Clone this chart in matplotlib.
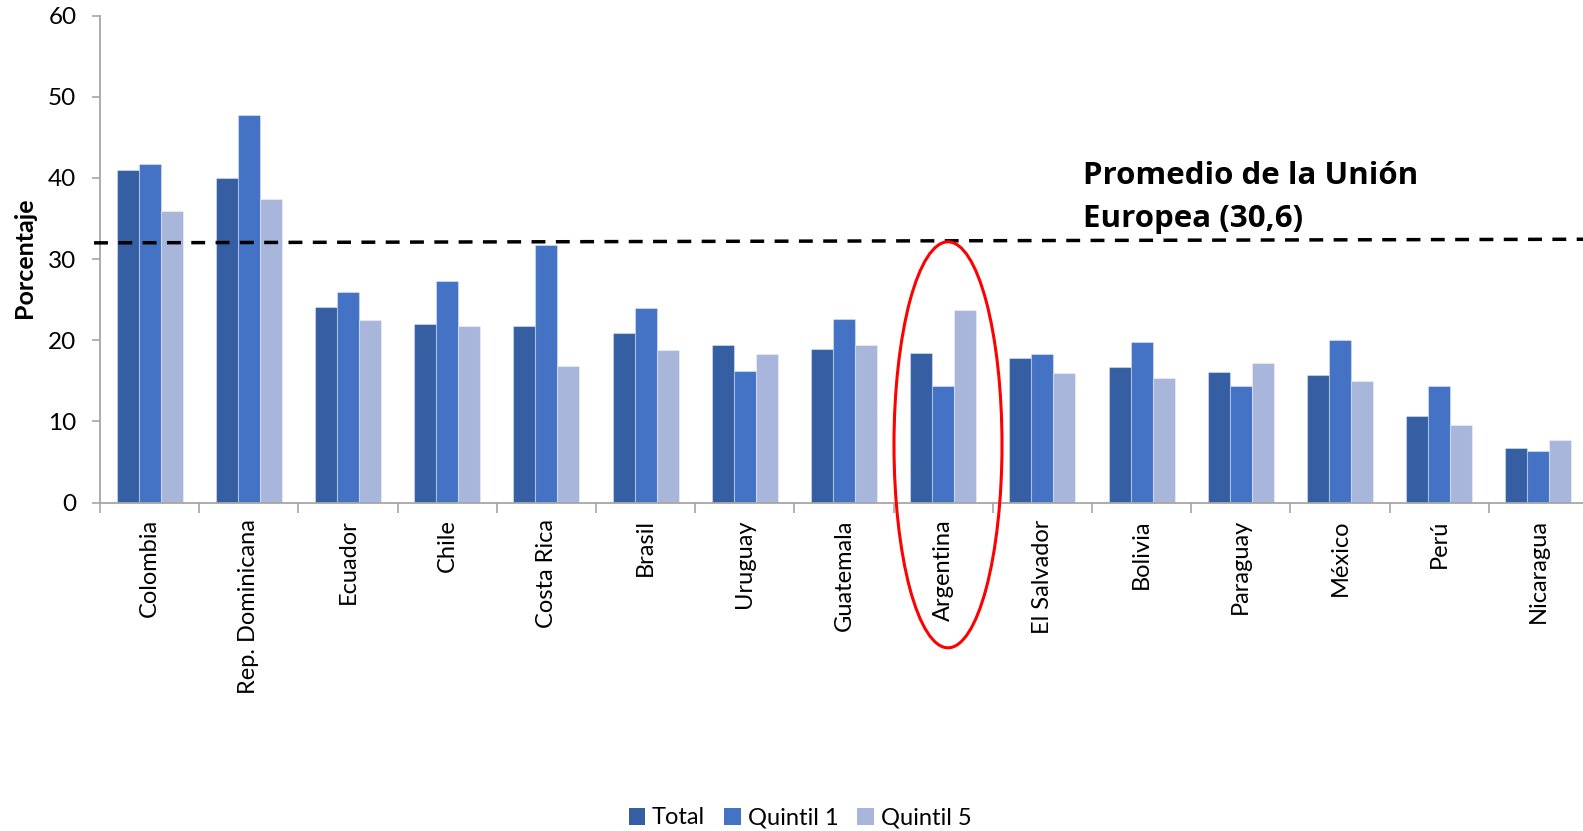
import matplotlib
matplotlib.use('Agg')
import matplotlib.pyplot as plt
from matplotlib.patches import Ellipse, Patch
import numpy as np

countries = ["Colombia", "Rep. Dominicana", "Ecuador", "Chile", "Costa Rica", "Brasil",
             "Uruguay", "Guatemala", "Argentina", "El Salvador", "Bolivia", "Paraguay",
             "México", "Perú", "Nicaragua"]
total = [41.0, 40.0, 24.1, 22.0, 21.7, 20.9, 19.4, 18.95, 18.4, 17.8, 16.7, 16.1, 15.7, 10.7, 6.7]
quintil1 = [41.7, 47.7, 25.9, 27.3, 31.75, 24.0, 16.15, 22.65, 14.4, 18.3, 19.8, 14.3, 20.0, 14.4, 6.3]
quintil5 = [35.9, 37.4, 22.5, 21.7, 16.8, 18.8, 18.3, 19.4, 23.7, 16.0, 15.4, 17.2, 15.0, 9.5, 7.7]
series_names = ["Total", "Quintil 1", "Quintil 5"]
eu_label_1 = "Promedio de la Unión"
eu_label_2 = "Europea (30,6)"
eu_line = [32.0, 32.45]
yticks = [0, 10, 20, 30, 40, 50, 60]
highlight = "Argentina"

colors = ["#365FA3", "#4472C4", "#A8B6DB"]
FONT = "Lato"
plt.rcParams['font.family'] = [FONT, 'DejaVu Sans']

W, H = 1583, 831
fig = plt.figure(figsize=(W / 100, H / 100), dpi=100)
ax = fig.add_axes([100 / W, (H - 502.5) / H, 1488 / W, (502.5 - 15.7) / H])

x = np.arange(len(countries))
bw = 0.222
for i, (vals, name) in enumerate(zip([total, quintil1, quintil5], series_names)):
    ax.bar(x + (i - 1) * bw, vals, width=bw, color=colors[i], edgecolor=(1, 1, 1, 0.35),
           linewidth=0.8, label=name, zorder=2)

ax.set_xlim(-0.5, len(countries) - 0.5)
ax.set_ylim(0, 60)
ax.set_yticks(yticks)
ax.set_yticklabels([str(v) for v in yticks], fontsize=17.5)
ax.set_xticks(x)
ax.set_xticklabels(countries, rotation=90, fontsize=17, ha='center', va='top')
ax.set_xticks(np.arange(-0.5, len(countries), 1), minor=True)
ax.tick_params(axis='x', which='major', length=0, pad=12)
ax.tick_params(axis='x', which='minor', length=7, width=1.2, color='#A6A6A6')
ax.tick_params(axis='y', length=6, width=1.2, color='#A6A6A6', pad=11)
for s in ['top', 'right']:
    ax.spines[s].set_visible(False)
for s in ['left', 'bottom']:
    ax.spines[s].set_color('#A6A6A6')
    ax.spines[s].set_linewidth(1.3)

# EU average dashed line
ax.plot([-0.56, len(countries) - 0.5], eu_line, color='black', linewidth=2.5,
        dashes=(4, 3), clip_on=False, zorder=3)

fig.text(1083 / W, 1 - 184 / H, eu_label_1, fontsize=22.5, fontweight='bold',
         family=['Open Sans', 'DejaVu Sans'], ha='left', va='baseline')
fig.text(1083 / W, 1 - 227 / H, eu_label_2, fontsize=22.5, fontweight='bold',
         family=['Open Sans', 'DejaVu Sans'], ha='left', va='baseline')

fig.text(24 / W, 1 - 258 / H, "Porcentaje", rotation=90, fontsize=18, fontweight='bold',
         ha='center', va='center')

# highlight ellipse
ell = Ellipse((948 / W, 1 - 444.8 / H), 108 / W, 406 / H, transform=fig.transFigure,
              fill=False, edgecolor='#FF0000', linewidth=2.2, zorder=5)
fig.patches.append(ell)

handles = [Patch(facecolor=c, edgecolor='none') for c in colors]
fig.legend(handles, series_names, loc='center', bbox_to_anchor=(800 / W, 1 - 818 / H),
           ncol=3, frameon=False, fontsize=17, handlelength=0.7, handleheight=0.7,
           handletextpad=0.3, columnspacing=0.8)

fig.savefig("out.png", dpi=100)
